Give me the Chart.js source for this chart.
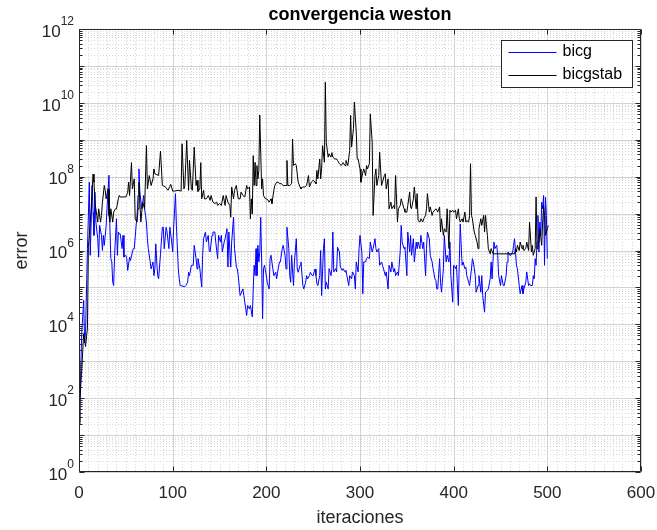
<!DOCTYPE html>
<html>
<head>
<meta charset="utf-8">
<script src="https://cdn.jsdelivr.net/npm/chart.js@4/dist/chart.umd.min.js"></script>
<style>
html,body{margin:0;padding:0;background:#fff;}
canvas{display:block;}
</style>
</head>
<body>
<canvas id="c" width="657" height="530"></canvas>
<script>
// ---- data (errors stored as log10 values) ----
const chartTitle = "convergencia weston";
const xAxisTitle = "iteraciones";
const yAxisTitle = "error";
const seriesNames = ["bicg", "bicgstab"];
const xTicks = [0, 100, 200, 300, 400, 500, 600];
const yTickExponents = [0, 2, 4, 6, 8, 10, 12];

const bicgIter = [0,1,2,3,5,6,7,9,11,12,14,15,16,17,18,20,21,22,24,25,26,27,29,30,32,33,34,35,36,37,38,40,41,42,43,44,46,47,48,50,51,52,54,55,57,58,59,61,62,63,64,65,67,68,69,70,72,73,74,76,77,79,80,81,82,83,84,85,87,89,90,91,93,94,96,97,99,100,101,103,104,106,107,108,110,113,114,116,117,118,120,122,123,125,126,127,129,131,132,133,135,136,138,139,140,142,143,145,146,148,149,151,152,153,155,156,158,159,160,162,163,165,166,168,169,170,172,173,175,176,178,179,180,182,183,185,186,187,188,189,190,191,192,193,194,195,196,197,198,200,201,203,204,205,207,208,210,211,212,214,215,217,218,220,221,222,224,225,226,227,229,230,232,233,234,236,237,239,240,242,243,244,246,247,249,250,252,253,254,255,257,258,259,261,262,263,264,266,267,269,270,271,272,274,275,276,278,279,281,282,284,285,286,288,289,291,292,294,295,296,298,299,300,302,303,304,306,307,308,310,311,313,314,316,317,318,320,321,323,324,326,327,328,330,331,333,334,336,337,338,340,341,343,344,345,347,348,350,351,353,354,355,357,358,360,361,362,364,365,367,368,370,371,372,374,375,377,378,380,381,382,383,385,386,387,389,390,392,393,395,396,397,399,400,402,403,405,406,407,409,410,412,413,414,416,417,419,420,421,423,424,426,427,429,430,431,433,434,436,437,439,440,441,443,444,446,447,448,450,451,453,454,456,457,458,460,461,463,464,465,467,468,470,471,473,474,475,477,478,480,481,482,484,485,486,487,488,489,490,491,492,493,494,495,496,497,498,499,500];
const bicgLog10 = [1.35,1.8,2.9,3.8,4.65,3.5,3.8,6.05,7.85,5.87,7.76,7.04,6.41,7.58,6.77,6.32,5.82,6.68,6.41,6.0,6.41,6.14,6.68,7.18,8.04,6.63,5.78,5.69,5.14,5.05,5.87,6.86,5.87,6.5,6.45,6.45,6.05,6.41,5.82,5.87,5.78,5.46,5.82,5.73,5.96,6.05,6.05,6.68,6.95,7.49,8.21,7.58,7.13,7.31,7.49,7.13,6.77,6.32,6.05,5.69,5.5,5.69,5.32,5.5,6.18,5.69,5.32,5.23,5.9,6.63,6.63,6.05,6.63,6.5,6.05,6.63,6.23,5.96,6.59,7.54,6.68,5.5,5.23,5.05,5.04,5.02,5.05,5.14,5.41,5.32,5.6,5.6,6.14,5.78,5.5,5.78,5.51,5.01,5.87,6.32,6.5,6.23,6.41,6.0,5.96,6.41,6.5,6.5,6.23,5.78,6.41,6.23,6.41,5.96,6.23,6.32,6.59,5.55,6.5,5.55,6.23,6.9,6.05,5.55,5.5,5.32,4.78,4.83,4.96,4.78,4.42,4.24,4.51,4.42,4.51,4.2,4.96,5.6,5.32,6.05,5.32,6.14,5.69,5.96,6.9,5.69,4.15,5.5,5.6,5.32,5.14,4.96,5.78,5.87,5.5,5.32,5.41,5.23,5.41,5.69,5.69,6.05,6.14,5.87,5.5,6.63,6.05,5.32,5.14,5.87,5.05,5.69,6.32,5.5,5.41,5.6,5.69,5.05,4.96,5.14,5.32,5.23,5.32,5.41,5.32,5.32,5.5,5.32,5.1,5.05,5.32,6.0,4.78,6.05,6.32,4.96,5.14,4.96,5.51,5.32,5.51,6.5,5.42,5.51,5.42,6.09,5.96,5.55,5.46,5.51,5.42,5.46,5.32,5.05,5.32,5.23,5.42,5.32,4.96,5.69,5.42,6.05,6.41,5.96,4.83,5.69,5.69,5.78,5.82,5.78,6.23,5.96,6.05,6.32,6.05,5.96,6.05,5.6,5.69,5.6,5.42,5.32,5.42,4.96,5.6,5.42,5.69,5.42,5.51,5.32,5.42,5.32,6.0,6.68,6.23,6.05,6.09,5.32,6.5,5.96,6.41,5.87,6.32,5.69,6.23,6.05,6.23,6.05,6.41,6.05,6.23,5.32,6.05,6.5,6.32,5.87,5.69,5.51,5.23,5.19,4.96,4.96,5.78,5.14,4.87,5.5,6.41,5.69,5.87,5.69,6.23,5.32,4.6,5.6,5.51,5.6,4.51,5.69,6.72,5.6,5.69,5.51,5.55,5.32,5.14,5.05,5.5,5.78,5.69,5.32,4.87,5.05,5.32,4.87,5.32,4.78,4.33,4.87,4.92,4.96,5.23,5.69,5.23,6.23,6.05,6.14,5.87,5.32,5.05,5.32,5.05,5.05,5.32,5.69,5.96,5.87,5.87,5.96,6.14,6.32,5.6,5.51,5.05,4.83,5.05,4.83,4.96,5.14,5.42,5.05,5.1,5.05,5.05,5.32,5.23,5.78,5.6,6.23,6.95,5.96,6.77,6.41,7.31,7.13,7.49,5.6,7.45,6.95,5.78];

const bicgstabIter = [0,1,2,3,5,7,9,10,11,13,15,16,17,19,20,21,23,24,25,27,28,29,31,32,33,34,36,37,39,40,42,43,44,46,47,49,50,52,53,54,56,57,59,60,62,63,64,66,68,70,72,73,75,77,79,80,81,85,87,89,92,95,98,100,102,106,109,110,112,113,115,117,118,120,121,123,125,126,127,129,130,131,133,134,136,138,140,141,143,145,147,148,150,152,154,156,157,159,161,162,163,165,166,168,170,172,173,175,177,179,180,182,183,184,185,186,187,188,189,190,191,192,193,195,196,197,199,200,202,203,205,206,208,209,211,213,214,216,218,220,221,222,223,225,227,228,229,231,232,234,236,237,239,241,243,245,246,248,250,252,253,254,255,257,258,259,260,262,263,264,266,267,269,270,271,273,275,276,278,280,282,284,285,287,289,290,291,293,294,296,297,298,300,301,303,304,306,307,308,310,311,313,314,316,317,318,320,321,323,324,326,327,328,330,331,333,334,336,337,338,340,341,343,344,345,347,348,350,351,353,354,355,357,358,360,361,362,364,365,367,368,370,371,372,374,375,377,378,379,381,382,383,385,386,387,389,390,392,393,395,396,397,399,400,402,403,405,406,407,409,410,412,413,414,416,417,418,419,420,422,423,425,426,427,429,430,432,433,434,436,437,439,440,442,443,465,466,467,468,470,471,473,474,475,477,478,480,481,483,484,485,487,488,489,490,491,492,494,495,496,497,498,499,500,501];
const bicgstabLog10 = [1.3,1.9,2.4,2.8,3.75,3.4,3.9,6.1,6.4,7.13,8.07,7.85,7.3,6.95,6.77,7.13,6.77,6.95,7.3,7.76,7.63,7.4,7.67,6.95,6.77,7.13,6.77,7.04,7.13,7.13,7.4,7.49,7.45,7.45,7.45,7.45,7.45,7.58,7.85,7.49,8.38,7.67,7.94,6.86,6.77,7.13,7.85,6.77,7.31,7.13,8.84,7.67,8.03,7.76,7.94,8.21,8.08,8.03,8.69,7.76,7.73,7.63,7.79,7.61,7.61,7.63,7.61,8.89,7.67,7.76,8.98,7.63,8.44,7.67,7.63,8.8,7.76,7.9,7.6,7.67,8.38,7.4,7.63,7.4,7.4,7.49,7.36,7.49,7.31,7.27,7.31,7.22,7.27,7.22,7.49,7.22,7.49,7.31,7.22,6.9,7.72,7.4,7.63,7.76,7.4,7.4,7.58,7.49,7.45,7.76,7.67,7.72,6.86,7.4,6.99,8.57,7.76,8.39,7.76,8.3,7.94,8.17,9.67,7.67,7.94,7.49,7.4,7.4,7.36,7.31,7.4,7.27,7.63,7.76,7.85,7.85,7.81,7.81,7.76,7.76,7.76,8.44,7.76,7.76,7.81,9.02,8.3,8.35,8.3,7.85,7.72,7.67,7.72,7.72,7.76,8.03,7.72,7.85,7.9,7.85,7.81,8.17,7.94,8.48,7.94,8.21,8.84,8.39,10.56,8.93,8.53,8.62,8.53,8.65,8.53,8.48,8.48,8.44,8.35,8.3,8.38,8.3,8.44,8.3,8.71,9.66,8.8,9.3,10.02,9.21,8.48,8.48,8.21,7.85,8.12,8.21,8.03,8.3,8.21,8.35,9.7,8.93,6.95,8.03,8.21,7.76,8.03,8.66,7.76,7.85,8.03,8.08,7.67,7.94,7.13,7.31,7.13,7.22,7.13,8.03,6.77,7.13,7.22,7.4,7.31,7.13,7.04,7.04,7.22,7.58,7.18,7.13,7.4,7.72,7.13,7.54,6.81,6.77,6.86,6.77,6.86,6.95,7.13,7.54,7.04,7.18,6.95,7.04,7.04,7.13,7.09,7.04,7.18,6.5,6.86,6.41,6.59,6.5,7.13,6.05,7.09,7.04,7.09,7.04,7.09,6.86,7.13,6.86,6.77,6.86,6.77,7.04,6.77,6.81,6.77,6.95,8.35,6.95,6.86,6.5,6.41,6.23,6.05,6.59,6.86,6.68,6.95,6.5,6.95,6.41,6.05,5.91,6.05,5.91,5.91,5.91,6.05,5.96,6.14,6.0,6.23,6.05,6.14,6.0,6.05,6.23,6.0,6.77,5.96,6.14,5.87,6.05,7.45,6.05,6.14,6.23,6.59,6.14,6.77,7.22,6.95,6.41,6.5,6.59,6.68];

// ---- rendering ----
const FONT = "'Liberation Sans', Arial, Helvetica, sans-serif";
const AXIS_COLOR = '#262626';

function toPoints(iters, logs) {
  return iters.map((it, k) => ({ x: it, y: Math.pow(10, logs[k]) }));
}

const matlabLook = {
  id: 'matlabLook',
  beforeDraw(chart) {
    const c = chart.ctx;
    c.save();
    c.fillStyle = '#ffffff';
    c.fillRect(0, 0, chart.width, chart.height);
    c.restore();
  },
  beforeDatasetsDraw(chart) {
    const c = chart.ctx, a = chart.chartArea, xs = chart.scales.x, ys = chart.scales.y;
    c.save();
    c.lineWidth = 1;
    // minor grid (dotted)
    c.strokeStyle = '#d6d6d6';
    c.setLineDash([1, 2]);
    c.beginPath();
    for (let n = 0; n < 12; n++) {
      for (let m = 2; m <= 9; m++) {
        const py = Math.round(ys.getPixelForValue(m * Math.pow(10, n))) + 0.5;
        c.moveTo(a.left, py); c.lineTo(a.right, py);
      }
    }
    for (let v = 10; v < 600; v += 10) {
      if (v % 100 === 0) continue;
      const px = Math.round(xs.getPixelForValue(v)) + 0.5;
      c.moveTo(px, a.top); c.lineTo(px, a.bottom);
    }
    c.stroke();
    // major grid
    c.setLineDash([]);
    c.strokeStyle = '#d2d2d2';
    c.beginPath();
    for (let n = 0; n <= 12; n++) {
      const py = Math.round(ys.getPixelForValue(Math.pow(10, n))) + 0.5;
      c.moveTo(a.left, py); c.lineTo(a.right, py);
    }
    xTicks.forEach(v => {
      const px = Math.round(xs.getPixelForValue(v)) + 0.5;
      c.moveTo(px, a.top); c.lineTo(px, a.bottom);
    });
    c.stroke();
    c.restore();
  },
  afterDatasetsDraw(chart) {
    const c = chart.ctx, a = chart.chartArea, xs = chart.scales.x, ys = chart.scales.y;
    c.save();
    const L = Math.round(a.left) + 0.5, R = Math.round(a.right) - 0.5;
    const T = Math.round(a.top) + 0.5, B = Math.round(a.bottom) - 0.5;
    c.strokeStyle = AXIS_COLOR;
    c.lineWidth = 1;
    c.beginPath();
    c.rect(L, T, R - L, B - T);
    xTicks.forEach(v => {
      const px = Math.round(xs.getPixelForValue(v)) + 0.5;
      c.moveTo(px, B); c.lineTo(px, B - 5);
      c.moveTo(px, T); c.lineTo(px, T + 5);
    });
    for (let n = 0; n <= 12; n++) {
      const py = Math.round(ys.getPixelForValue(Math.pow(10, n))) + 0.5;
      c.moveTo(L, py); c.lineTo(L + 5, py);
      c.moveTo(R, py); c.lineTo(R - 5, py);
      if (n < 12) {
        for (let m = 2; m <= 9; m++) {
          const pm = Math.round(ys.getPixelForValue(m * Math.pow(10, n))) + 0.5;
          c.moveTo(L, pm); c.lineTo(L + 3, pm);
          c.moveTo(R, pm); c.lineTo(R - 3, pm);
        }
      }
    }
    c.stroke();

    // tick labels
    c.fillStyle = AXIS_COLOR;
    c.font = '17px ' + FONT;
    c.textAlign = 'center';
    c.textBaseline = 'middle';
    xTicks.forEach(v => {
      c.fillText(String(v), xs.getPixelForValue(v), a.bottom + 21);
    });
    yTickExponents.forEach(e => {
      const py = ys.getPixelForValue(Math.pow(10, e));
      const expStr = String(e);
      c.font = '12px ' + FONT;
      const ew = c.measureText(expStr).width;
      const rightEdge = a.left - 5;
      c.textAlign = 'left';
      c.fillText(expStr, rightEdge - ew, py - 7);
      c.font = '17px ' + FONT;
      c.textAlign = 'right';
      c.fillText('10', rightEdge - ew, py + 3);
    });

    // axis titles
    c.font = '18px ' + FONT;
    c.textAlign = 'center';
    c.textBaseline = 'middle';
    c.fillText(xAxisTitle, (a.left + a.right) / 2, a.bottom + 46);
    c.save();
    c.translate(22, (a.top + a.bottom) / 2);
    c.rotate(-Math.PI / 2);
    c.fillText(yAxisTitle, 0, 0);
    c.restore();

    // title
    c.fillStyle = '#000000';
    c.font = 'bold 18px ' + FONT;
    c.fillText(chartTitle, (a.left + a.right) / 2, 15);

    // legend
    const bx = 501.5, by = 40.5, bw = 131, bh = 47;
    c.fillStyle = '#ffffff';
    c.fillRect(bx, by, bw, bh);
    c.strokeStyle = AXIS_COLOR;
    c.lineWidth = 1;
    c.strokeRect(bx, by, bw, bh);
    const ds = chart.data.datasets;
    const rows = [by + 11.5, by + 34.5];
    [0, 1].forEach(k => {
      const d = ds.find(s => s.label === seriesNames[k]);
      c.strokeStyle = d.borderColor;
      c.beginPath();
      c.moveTo(bx + 7, Math.round(rows[k]) + 0.5);
      c.lineTo(bx + 55, Math.round(rows[k]) + 0.5);
      c.stroke();
      c.fillStyle = '#000000';
      c.font = '16px ' + FONT;
      c.textAlign = 'left';
      c.textBaseline = 'middle';
      c.fillText(seriesNames[k], bx + 61, rows[k]);
    });
    c.restore();
  }
};

new Chart(document.getElementById('c'), {
  type: 'line',
  data: {
    datasets: [
      { label: seriesNames[0], data: toPoints(bicgIter, bicgLog10), borderColor: '#0000ff',
        borderWidth: 1, pointRadius: 0, tension: 0, fill: false, order: 1 },
      { label: seriesNames[1], data: toPoints(bicgstabIter, bicgstabLog10), borderColor: '#000000',
        borderWidth: 1, pointRadius: 0, tension: 0, fill: false, order: 0 }
    ]
  },
  options: {
    responsive: false,
    animation: false,
    events: [],
    layout: { padding: { left: 79, right: 16, top: 29, bottom: 58 } },
    plugins: { legend: { display: false }, title: { display: false }, tooltip: { enabled: false } },
    scales: {
      x: { type: 'linear', min: 0, max: 600, display: false },
      y: { type: 'logarithmic', min: 1, max: 1e12, display: false }
    }
  },
  plugins: [matlabLook]
});
</script>
</body>
</html>
